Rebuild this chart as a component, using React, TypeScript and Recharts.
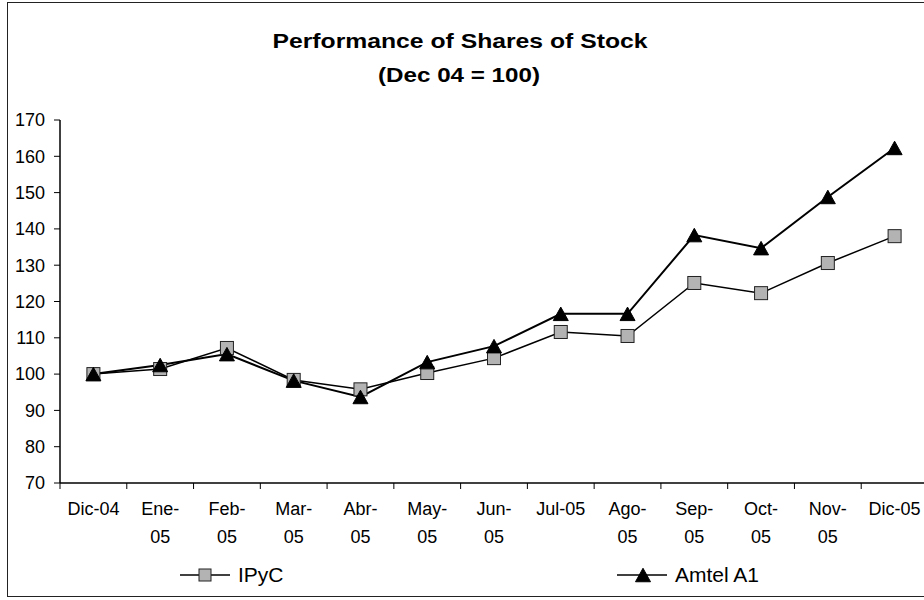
import React from 'react';
import { LineChart, Line, XAxis, YAxis, Legend } from 'recharts';

const months = ['Dic-04', 'Ene-05', 'Feb-05', 'Mar-05', 'Abr-05', 'May-05', 'Jun-05', 'Jul-05', 'Ago-05', 'Sep-05', 'Oct-05', 'Nov-05', 'Dic-05'];
// wrapped the way the original axis wraps them
const monthLabelLines = [
  ['Dic-04'], ['Ene-', '05'], ['Feb-', '05'], ['Mar-', '05'], ['Abr-', '05'], ['May-', '05'], ['Jun-', '05'],
  ['Jul-05'], ['Ago-', '05'], ['Sep-', '05'], ['Oct-', '05'], ['Nov-', '05'], ['Dic-05'],
];
const ipyc = [100, 101.4, 107.2, 98.4, 95.8, 100.3, 104.4, 111.6, 110.5, 125.1, 122.3, 130.6, 138];
const amtel = [100, 102.5, 105.5, 98.2, 93.7, 103.3, 107.7, 116.6, 116.6, 138.3, 134.7, 148.8, 162.3];
const yTicks = [70, 80, 90, 100, 110, 120, 130, 140, 150, 160, 170];

const FONT = '"Liberation Sans", Arial, sans-serif';

const data = months.map((m, i) => ({ month: m, ipyc: ipyc[i], amtel: amtel[i] }));

const SquareDot = ({ cx, cy, size = 13 }: any) => {
  if (cx == null || cy == null) return null;
  return (
    <rect x={cx - size / 2} y={cy - size / 2} width={size} height={size} fill="#b3b3b3" stroke="#222" strokeWidth={1} />
  );
};

const TriangleDot = ({ cx, cy, size = 15 }: any) => {
  if (cx == null || cy == null) return null;
  const h = size * 0.9;
  return (
    <polygon
      points={`${cx},${cy - h / 2} ${cx - size / 2},${cy + h / 2} ${cx + size / 2},${cy + h / 2}`}
      fill="#000"
      stroke="#000"
      strokeWidth={1}
    />
  );
};

const MonthTick = ({ x, y, index, width, visibleTicksCount }: any) => {
  const lines = monthLabelLines[index] || [];
  const half = width / (visibleTicksCount || months.length) / 2;
  return (
    <g>
      {/* tick marks sit between categories, like the original */}
      <line x1={x - half} x2={x - half} y1={y} y2={y + 6} stroke="#000" strokeWidth={1} />
      {index === months.length - 1 && (
        <line x1={x + half} x2={x + half} y1={y} y2={y + 6} stroke="#000" strokeWidth={1} />
      )}
      {lines.map((t, i) => (
        <text key={i} x={x} y={y + 32 + i * 28} textAnchor="middle" fontSize={18} fontFamily={FONT} fill="#000">
          {t}
        </text>
      ))}
    </g>
  );
};

const LegendItem = ({ left, label, dot }: { left: number; label: string; dot: React.ReactNode }) => (
  <div style={{ position: 'absolute', left, top: 0, display: 'flex', alignItems: 'center', height: 30 }}>
    <svg width={52} height={30}>
      <line x1={0} x2={50} y1={15} y2={15} stroke="#000" strokeWidth={1.5} />
      {dot}
    </svg>
    <span style={{ fontSize: 21, fontFamily: FONT, color: '#000', marginLeft: 6 }}>{label}</span>
  </div>
);

const renderLegend = () => (
  <div style={{ position: 'relative', width: 924, height: 30 }}>
    <LegendItem left={180} label="IPyC" dot={<SquareDot cx={25} cy={15} size={12} />} />
    <LegendItem left={617} label="Amtel A1" dot={<TriangleDot cx={26} cy={15} size={15} />} />
  </div>
);

export default function App() {
  return (
    <div style={{ position: 'absolute', left: 0, top: 0, width: 924, height: 600, overflow: 'hidden', background: '#fff' }}>
      <div style={{ position: 'absolute', left: 7, top: 2, width: 960, height: 595, border: '1.5px solid #222', boxSizing: 'border-box' }} />
      <svg width={924} height={100} style={{ position: 'absolute', left: 0, top: 0 }}>
        <text x={460} y={48} textAnchor="middle" fontSize={21} fontWeight="bold" fontFamily={FONT} textLength={375} lengthAdjust="spacingAndGlyphs">
          Performance of Shares of Stock
        </text>
        <text x={459} y={82} textAnchor="middle" fontSize={21} fontWeight="bold" fontFamily={FONT} textLength={162} lengthAdjust="spacingAndGlyphs">
          (Dec 04 = 100)
        </text>
      </svg>
      <div style={{ position: 'absolute', left: 0, top: 0 }}>
        <LineChart width={940} height={600} data={data} margin={{ top: 120, right: 12, bottom: 47, left: 0 }}>
          <XAxis
            dataKey="month"
            type="category"
            padding={{ left: 33.4, right: 33.4 }}
            interval={0}
            height={70}
            tickSize={0}
            tickMargin={0}
            tickLine={false}
            axisLine={{ stroke: '#000', strokeWidth: 1.5 }}
            tick={<MonthTick />}
          />
          <YAxis
            type="number"
            domain={[70, 170]}
            ticks={yTicks}
            interval={0}
            width={60}
            tickSize={6}
            tickMargin={9}
            axisLine={{ stroke: '#000', strokeWidth: 1.5 }}
            tickLine={{ stroke: '#000' }}
            tick={{ fontSize: 18, fontFamily: FONT, fill: '#000' }}
          />
          <Legend layout="horizontal" verticalAlign="middle" align="center" wrapperStyle={{ top: 560, left: 0, width: 924 }} content={renderLegend} />
          <Line
            type="linear"
            dataKey="ipyc"
            name="IPyC"
            stroke="#000"
            strokeWidth={1.5}
            dot={(p: any) => <SquareDot key={`s-${p.index}`} cx={p.cx} cy={p.cy} />}
            activeDot={false}
            isAnimationActive={false}
          />
          <Line
            type="linear"
            dataKey="amtel"
            name="Amtel A1"
            stroke="#000"
            strokeWidth={2}
            dot={(p: any) => <TriangleDot key={`t-${p.index}`} cx={p.cx} cy={p.cy} />}
            activeDot={false}
            isAnimationActive={false}
          />
        </LineChart>
      </div>
    </div>
  );
}
